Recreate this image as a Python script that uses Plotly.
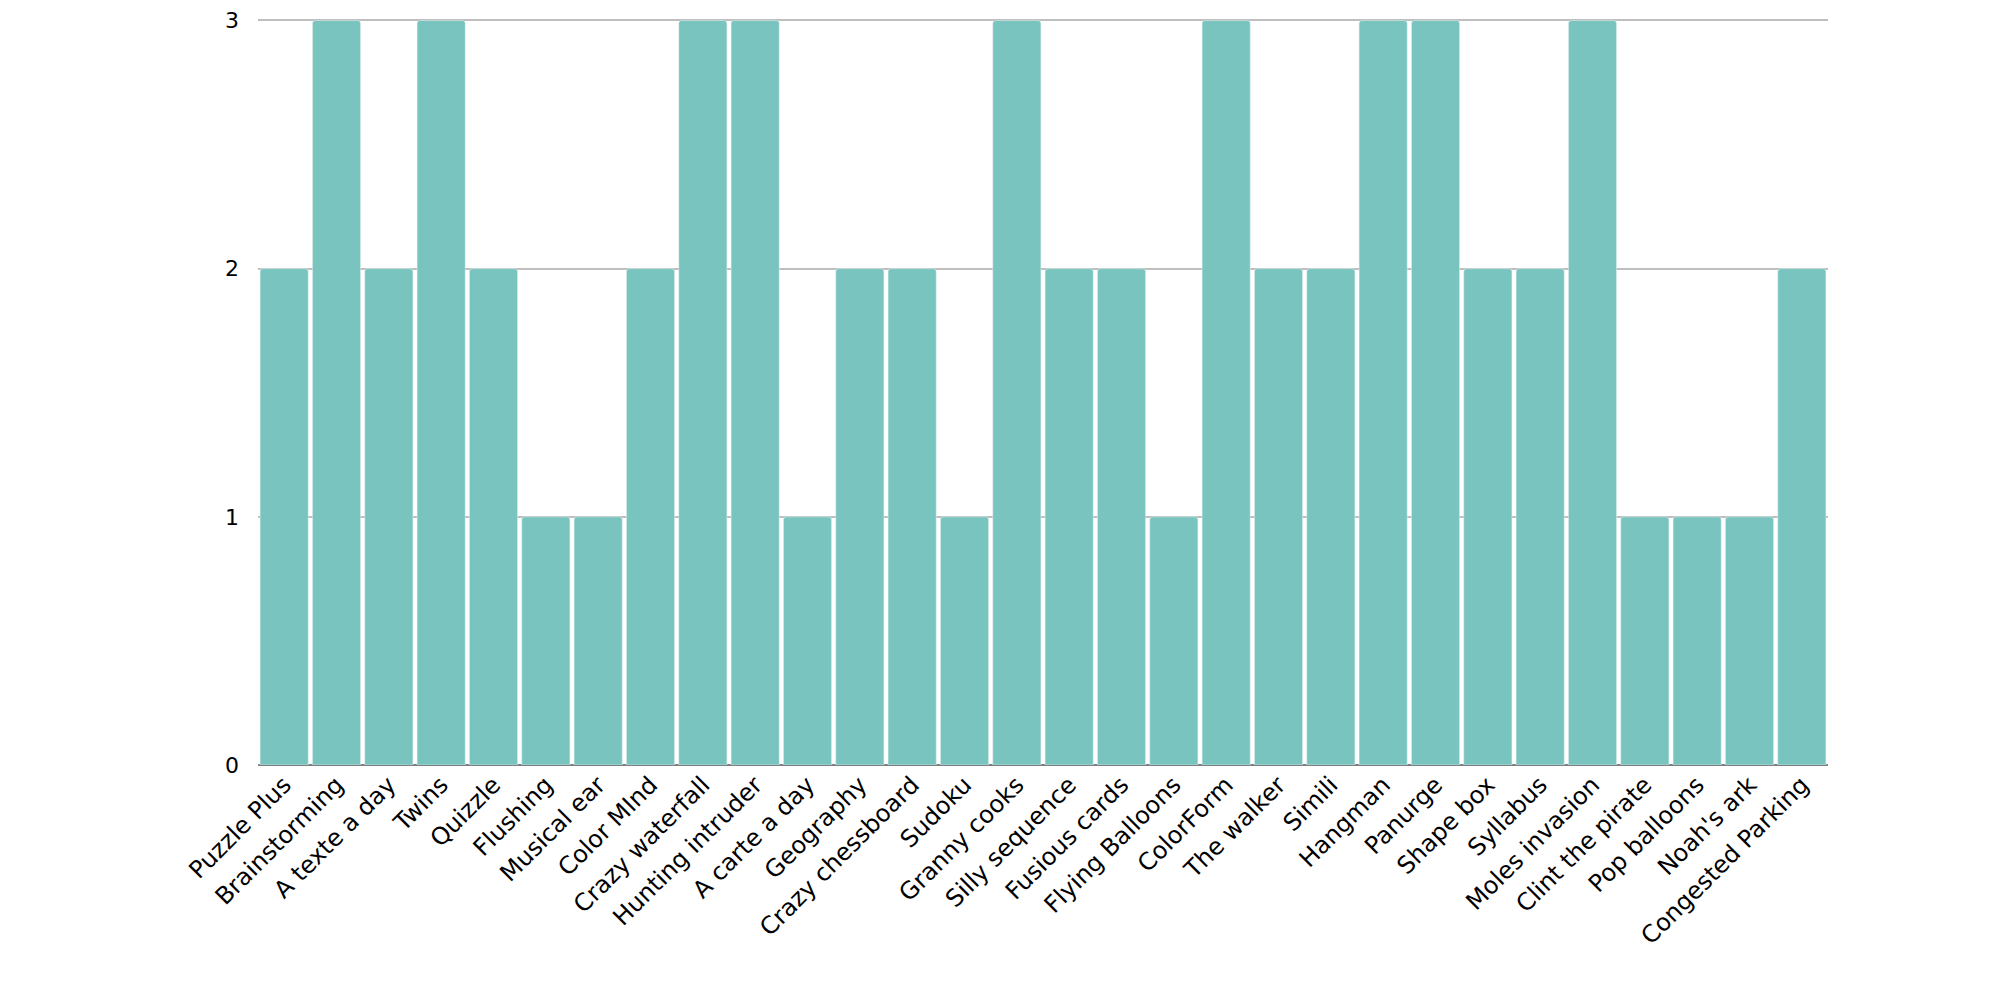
import plotly.graph_objects as go

categories = ["Puzzle Plus", "Brainstorming", "A texte a day", "Twins", "Quizzle", "Flushing",
              "Musical ear", "Color MInd", "Crazy waterfall", "Hunting intruder", "A carte a day",
              "Geography", "Crazy chessboard", "Sudoku", "Granny cooks", "Silly sequence",
              "Fusious cards", "Flying Balloons", "ColorForm", "The walker", "Simili", "Hangman",
              "Panurge", "Shape box", "Syllabus", "Moles invasion", "Clint the pirate",
              "Pop balloons", "Noah's ark", "Congested Parking"]
values = [2, 3, 2, 3, 2, 1, 1, 2, 3, 3, 1, 2, 2, 1, 3, 2, 2, 1, 3, 2, 2, 3, 3, 2, 2, 3, 1, 1, 1, 2]
y_ticks = [0, 1, 2, 3]

fig = go.Figure(go.Bar(
    x=categories, y=values,
    marker=dict(color="#7ac4c0", line=dict(color="#e6f3f2", width=0.5), cornerradius=3),
    hoverinfo="x+y",
))

fig.update_layout(
    width=2000, height=1000,
    margin=dict(l=250, r=180, t=10, b=243),
    paper_bgcolor="white", plot_bgcolor="white",
    bargap=0.08,
    showlegend=False,
    font=dict(family="'DejaVu Sans', sans-serif", color="#000000", size=22),
    xaxis=dict(
        tickangle=-45, showgrid=False, showline=False, ticks="",
        tickfont=dict(size=24, color="#000000"),
        automargin=False,
    ),
    yaxis=dict(
        range=[0, 3.01], tickvals=y_ticks, showgrid=True, gridcolor="#bfbfbf", gridwidth=1.5,
        zeroline=True, zerolinecolor="#7f7f7f", zerolinewidth=2,
        showline=False, ticks="", ticklabelstandoff=18, ticklabeloverflow="allow",
        tickfont=dict(size=22, color="#000000"),
        automargin=False,
    ),
)

fig.write_html("out.html")
